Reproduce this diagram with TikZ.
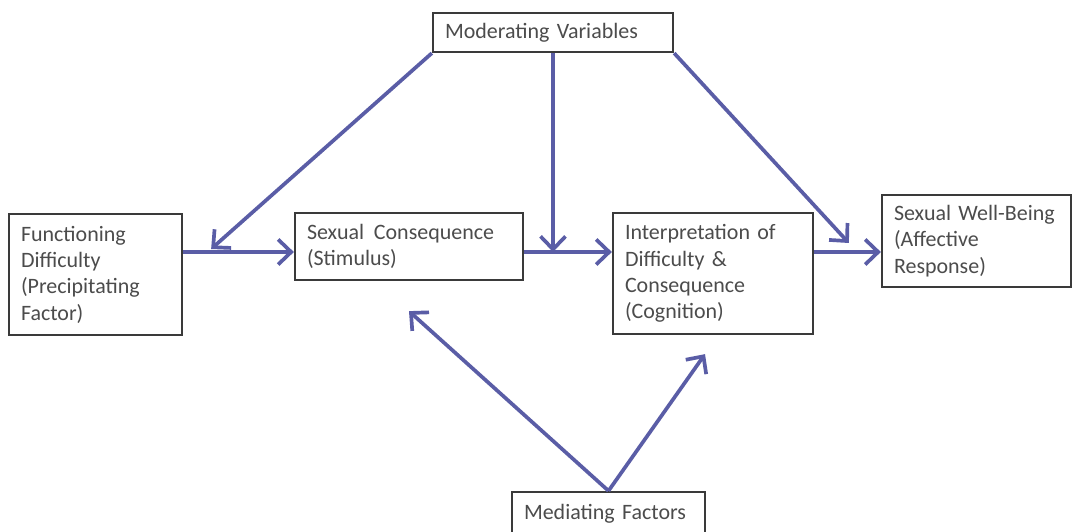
\documentclass[tikz,border=0pt]{standalone}
\usepackage{fontspec}
\setmainfont{Carlito}
\usetikzlibrary{positioning,arrows.meta,calc}
\definecolor{arrowc}{HTML}{5A5DA6}
\definecolor{framec}{HTML}{3A3A3A}
\definecolor{textc}{HTML}{4C4C4C}
\tikzset{
  box/.style={draw=framec, line width=1.3pt, align=left, text=textc, fill=white,
              font=\fontsize{12.5}{15}\selectfont, inner xsep=0.24cm, inner ysep=0pt},
  arr/.style={-{Straight Barb[length=2.6mm, width=5mm]}, line width=2.1pt, draw=arrowc},
}
\begin{document}
\begin{tikzpicture}
  \useasboundingbox (0,0) rectangle (21.46,10.62);

  \node[box, text width=4.32cm, minimum height=0.78cm] (mod) at (11.06,9.97) {Moderating Variables};
  \node[box, text width=2.98cm, minimum height=2.42cm] (func) at (1.91,5.13)
      {Functioning\\Difficulty\\(Precipitating\\Factor)};
  \node[box, text width=4.08cm, minimum height=1.34cm] (cons) at (8.18,5.69)
      {Sexual\hspace{0.45em}Consequence\\(Stimulus)};
  \node[box, text width=3.52cm, minimum height=2.42cm] (interp) at (14.26,5.15)
      {Interpretation of\\Difficulty \&\\Consequence\\(Cognition)};
  \node[box, text width=3.30cm, minimum height=1.84cm] (well) at (19.53,5.80)
      {Sexual Well-Being\\(Affective\\Response)};
  \node[box, text width=3.38cm, minimum height=0.86cm] (med) at (12.17,0.35) {Mediating Factors};

  \coordinate (axis) at (0,5.58);
  \coordinate (lhit) at ($(func.east |- axis)+(0.56,0.06)$);
  \coordinate (rhit) at ($(well.west |- axis)+(-0.64,0.18)$);
  \coordinate (chit) at ($(cons.south)+(0,-0.6)$);
  \coordinate (ihit) at ($(interp.south)+(-0.16,-0.38)$);

  \draw[arr] (func.east |- axis) -- (cons.west |- axis);
  \draw[arr] (cons.east |- axis) -- (interp.west |- axis);
  \draw[arr] (interp.east |- axis) -- (well.west |- axis);
  \draw[arr] (mod.south west) -- (lhit);
  \draw[arr] (mod.south) -- (mod.south |- axis);
  \draw[arr] (mod.south east) -- (rhit);
  \draw[arr] (med.north) -- (chit);
  \draw[arr] (med.north) -- (ihit);
\end{tikzpicture}
\end{document}
